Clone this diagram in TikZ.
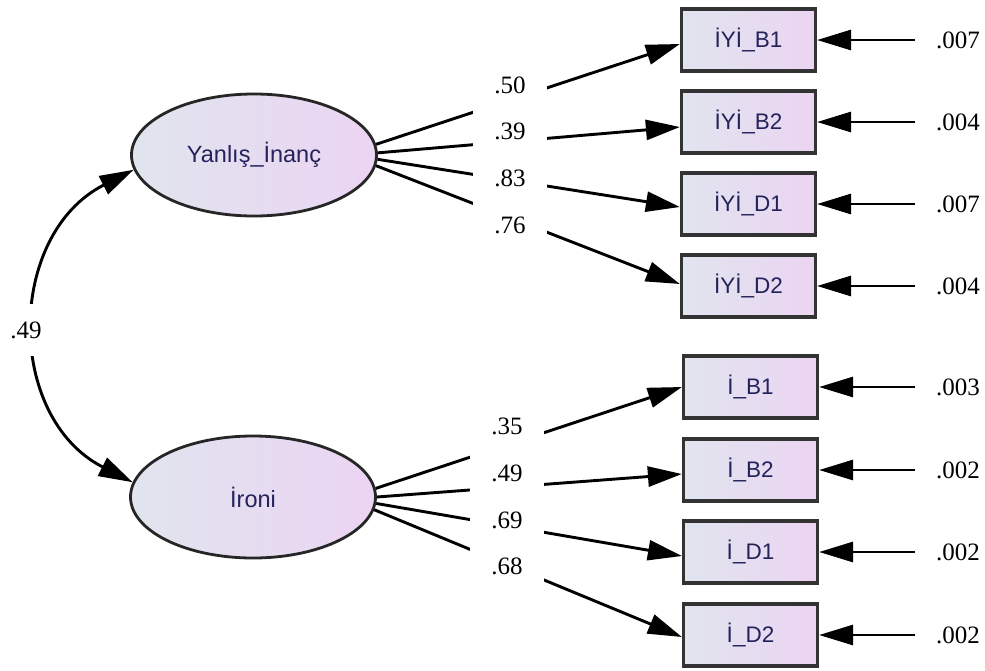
\documentclass[tikz,border=0pt]{standalone}
\usepackage{fontspec}
\setmainfont{Liberation Serif}
\newfontfamily\boxfont{Liberation Sans}
\usetikzlibrary{arrows.meta,shapes.geometric}
\definecolor{fillL}{RGB}{224,229,238}
\definecolor{fillR}{RGB}{236,212,243}
\definecolor{txtc}{RGB}{35,35,90}
\begin{document}
\begin{tikzpicture}[x=1pt,y=-1pt,
  latent/.style={ellipse, draw=black!85, line width=2.8pt, minimum width=245pt, minimum height=122pt,
    inner sep=0pt, left color=fillL, right color=fillR, text=txtc, font=\boxfont\fontsize{23.5}{26}\selectfont},
  obs/.style={rectangle, draw=black!80, line width=3.2pt, minimum width=134pt, minimum height=62pt,
    inner sep=0pt, left color=fillL, right color=fillR, text=txtc, font=\boxfont\fontsize{22.5}{26}\selectfont},
  loadarrow/.style={line width=2.9pt, -{Triangle[length=34pt,width=20pt]}},
  covarrow/.style={line width=2.9pt, {Triangle[length=34pt,width=20pt]}-{Triangle[length=34pt,width=20pt]}},
  coef/.style={fill=white, inner sep=0pt, minimum width=74pt, minimum height=48pt, font=\fontsize{25}{28}\selectfont},
  errlab/.style={anchor=west, inner sep=0pt, font=\fontsize{25}{28}\selectfont}
]
\useasboundingbox (0,0) rectangle (985,670);

% latent variables
\node[latent] (e1) at (254,155) {Yanlış\_İnanç};
\node[latent] (e2) at (253,497) {İroni};

% observed variables
\node[obs] (b1) at (748.5,40)  {İYİ\_B1};
\node[obs] (b2) at (748.5,122) {İYİ\_B2};
\node[obs] (b3) at (748.5,204) {İYİ\_D1};
\node[obs] (b4) at (748.5,286) {İYİ\_D2};
\node[obs] (b5) at (750.5,387) {İ\_B1};
\node[obs] (b6) at (750.5,470) {İ\_B2};
\node[obs] (b7) at (750.5,552) {İ\_D1};
\node[obs] (b8) at (750.5,635) {İ\_D2};

% loadings
\draw[loadarrow] (e1.5.6)  -- ([yshift=-4pt]b1.west);
\draw[loadarrow] (e1.1.9)  -- ([yshift=-5pt]b2.west);
\draw[loadarrow] (e1.-2.4) -- ([yshift=-3pt]b3.west);
\draw[loadarrow] (e1.-5.9) -- ([yshift=2pt]b4.west);
\draw[loadarrow] (e2.4.7)  -- (b5.west);
\draw[loadarrow] (e2.0.5)  -- ([yshift=-4pt]b6.west);
\draw[loadarrow] (e2.-3.3) -- ([yshift=-4pt]b7.west);
\draw[loadarrow] (e2.-6.6) -- ([yshift=-2pt]b8.west);

% loading labels
\node[coef] (c1) at (510,85)  {.50};
\node[coef] (c2) at (510,131) {.39};
\node[coef] (c3) at (510,178) {.83};
\node[coef] (c4) at (510,225) {.76};
\node[coef] (c5) at (507,426) {.35};
\node[coef] (c6) at (507,473) {.49};
\node[coef] (c7) at (507,520) {.69};
\node[coef] (c8) at (507,566) {.68};

% covariance
\draw[covarrow] (e1.187) to[out=207,in=153,looseness=1.17] (e2.173);
\node[fill=white, inner sep=0pt, minimum width=38pt, minimum height=52pt, font=\fontsize{25}{28}\selectfont] (cv) at (26,330) {.49};

% error terms
\coordinate (q1) at (915,40);
\coordinate (q2) at (915,122);
\coordinate (q3) at (915,204);
\coordinate (q4) at (915,286);
\coordinate (q5) at (915,387);
\coordinate (q6) at (915,470);
\coordinate (q7) at (915,552);
\coordinate (q8) at (915,635);
\foreach \i in {1,...,8} { \draw[loadarrow] (q\i) -- (b\i.east); }
\node[errlab] (r1) at (936,40)  {.007};
\node[errlab] (r2) at (936,122) {.004};
\node[errlab] (r3) at (936,204) {.007};
\node[errlab] (r4) at (936,286) {.004};
\node[errlab] (r5) at (936,387) {.003};
\node[errlab] (r6) at (936,470) {.002};
\node[errlab] (r7) at (936,552) {.002};
\node[errlab] (r8) at (936,635) {.002};
\end{tikzpicture}
\end{document}
